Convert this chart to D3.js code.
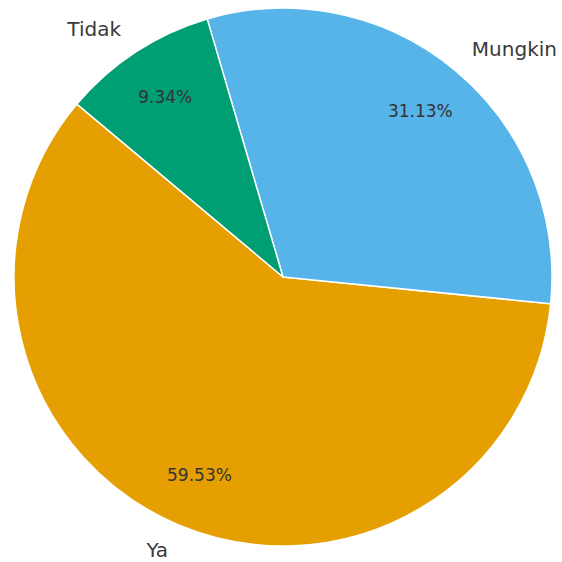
<!DOCTYPE html>
<html>
<head>
<meta charset="utf-8">
<script src="https://cdn.jsdelivr.net/npm/d3@7"></script>
<style>
  html, body { margin: 0; padding: 0; background: #fff; }
  svg { display: block; }
</style>
</head>
<body>
<svg id="chart"></svg>
<script>
const categories = ['Ya', 'Mungkin', 'Tidak'];
const shares = [59.53, 31.13, 9.34];
const colors = ['#E69F00', '#56B4E9', '#009E73'];

const width = 562, height = 562;
const cx = 283, cy = 277, radius = 269;

const svg = d3.select('#chart')
  .attr('width', width)
  .attr('height', height);

const g = svg.append('g')
  .attr('transform', `translate(${cx},${cy})`);

// matplotlib style: start at 140deg, counterclockwise
const start = (90 - 140) * Math.PI / 180;
const pie = d3.pie()
  .sort(null)
  .value(d => d.value)
  .startAngle(start)
  .endAngle(start - 2 * Math.PI);

const data = categories.map((c, i) => ({ label: c, value: shares[i], color: colors[i] }));
const arcs = pie(data);

const arc = d3.arc().innerRadius(0).outerRadius(radius);
const labelArc = d3.arc().innerRadius(radius * 1.1).outerRadius(radius * 1.1);
const pctArc = d3.arc().innerRadius(radius * 0.8).outerRadius(radius * 0.8);

// Slices
g.selectAll('path.slice')
  .data(arcs)
  .enter()
  .append('path')
  .attr('class', 'slice')
  .attr('d', arc)
  .attr('fill', d => d.data.color)
  .attr('stroke', '#fff')
  .attr('stroke-width', 1.5)
  .attr('stroke-linejoin', 'round');

// Category labels
g.selectAll('text.label')
  .data(arcs)
  .enter()
  .append('text')
  .attr('class', 'label')
  .attr('x', d => labelArc.centroid(d)[0])
  .attr('y', d => labelArc.centroid(d)[1])
  .attr('dy', '0.35em')
  .attr('text-anchor', d => labelArc.centroid(d)[0] > 0 ? 'start' : 'end')
  .style('font-family', 'DejaVu Sans, sans-serif')
  .style('font-size', '20px')
  .style('fill', '#3a3a3a')
  .text(d => d.data.label);

// Percent labels
g.selectAll('text.pct')
  .data(arcs)
  .enter()
  .append('text')
  .attr('class', 'pct')
  .attr('x', d => pctArc.centroid(d)[0])
  .attr('y', d => pctArc.centroid(d)[1])
  .attr('dy', '0.35em')
  .attr('text-anchor', 'middle')
  .style('font-family', 'DejaVu Sans, sans-serif')
  .style('font-size', '17px')
  .style('fill', '#333')
  .text(d => d.data.value.toFixed(2) + '%');
</script>
</body>
</html>
